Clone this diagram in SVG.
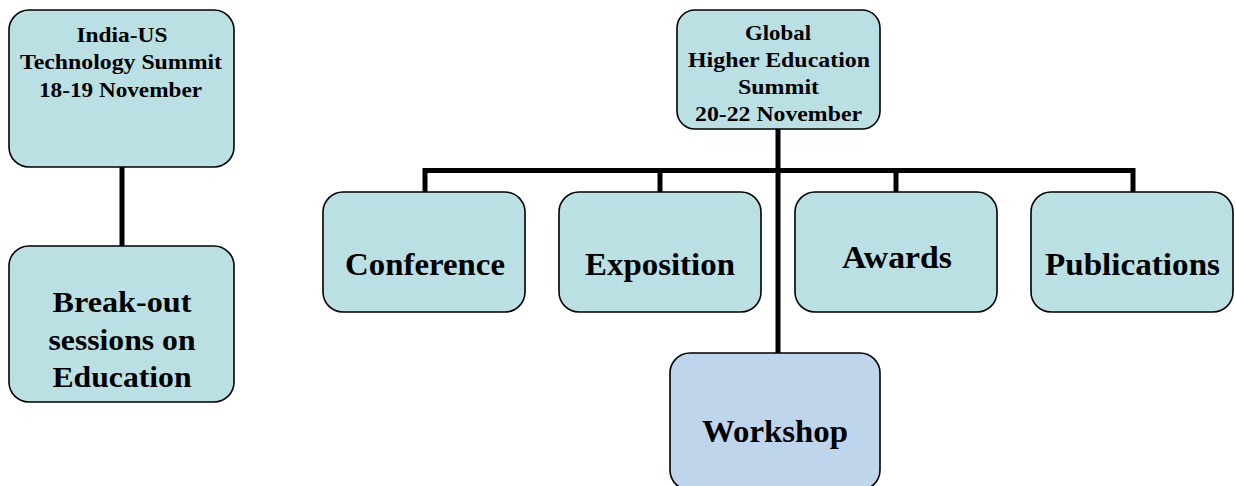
<svg xmlns="http://www.w3.org/2000/svg" width="1236" height="486" viewBox="0 0 1236 486">
<style>
.box{fill:#bbe0e3;stroke:#000;stroke-width:1.6}
.box2{fill:#bed5ec;stroke:#000;stroke-width:1.6}
text{font-family:'Liberation Serif',serif;font-weight:bold;fill:#000;text-anchor:middle}
.s{font-size:22px}
.m{font-size:29px}
.l{font-size:31px}
.c{stroke:#000;stroke-width:5;fill:none}
</style>
<rect width="1236" height="486" fill="#fff"/>
<g id="connectors">
<line class="c" x1="122" y1="167" x2="122" y2="246"/>
<line class="c" x1="778" y1="129" x2="778" y2="353"/>
<polyline class="c" points="425,192 425,170.5 1133,170.5 1133,192"/>
<line class="c" x1="660" y1="170" x2="660" y2="192"/>
<line class="c" x1="896" y1="170" x2="896" y2="192"/>
</g>
<g id="india-us">
<rect class="box" x="9" y="10" width="225" height="157" rx="20"/>
<text class="s" x="122" y="41.5" textLength="91" lengthAdjust="spacingAndGlyphs">India-US</text>
<text class="s" x="121" y="68.5" textLength="202" lengthAdjust="spacingAndGlyphs">Technology Summit</text>
<text class="s" x="120.5" y="96.5" textLength="163" lengthAdjust="spacingAndGlyphs">18-19 November</text>
</g>
<g id="breakout">
<rect class="box" x="9" y="246" width="225" height="156" rx="20"/>
<text class="m" x="122" y="312" textLength="139" lengthAdjust="spacingAndGlyphs">Break-out</text>
<text class="m" x="122" y="350" textLength="147" lengthAdjust="spacingAndGlyphs">sessions on</text>
<text class="m" x="122" y="387" textLength="139" lengthAdjust="spacingAndGlyphs">Education</text>
</g>
<g id="global">
<rect class="box" x="677" y="10" width="203" height="119" rx="18"/>
<text class="s" x="778" y="40" textLength="66" lengthAdjust="spacingAndGlyphs">Global</text>
<text class="s" x="779" y="67" textLength="182" lengthAdjust="spacingAndGlyphs">Higher Education</text>
<text class="s" x="778.5" y="94" textLength="81" lengthAdjust="spacingAndGlyphs">Summit</text>
<text class="s" x="778.5" y="121" textLength="167" lengthAdjust="spacingAndGlyphs">20-22 November</text>
</g>
<g id="conference">
<rect class="box" x="323" y="192" width="202" height="120" rx="20"/>
<text class="l" x="425" y="275" textLength="160" lengthAdjust="spacingAndGlyphs">Conference</text>
</g>
<g id="exposition">
<rect class="box" x="559" y="192" width="202" height="120" rx="20"/>
<text class="l" x="660" y="275" textLength="150" lengthAdjust="spacingAndGlyphs">Exposition</text>
</g>
<g id="awards">
<rect class="box" x="795" y="192" width="202" height="120" rx="20"/>
<text class="l" x="897" y="268" textLength="110" lengthAdjust="spacingAndGlyphs">Awards</text>
</g>
<g id="publications">
<rect class="box" x="1031" y="192" width="202" height="120" rx="20"/>
<text class="l" x="1132.5" y="275" textLength="175" lengthAdjust="spacingAndGlyphs">Publications</text>
</g>
<g id="workshop">
<rect class="box2" x="670" y="353" width="210" height="137" rx="20"/>
<text class="l" x="775" y="442" textLength="146" lengthAdjust="spacingAndGlyphs">Workshop</text>
</g>
</svg>
